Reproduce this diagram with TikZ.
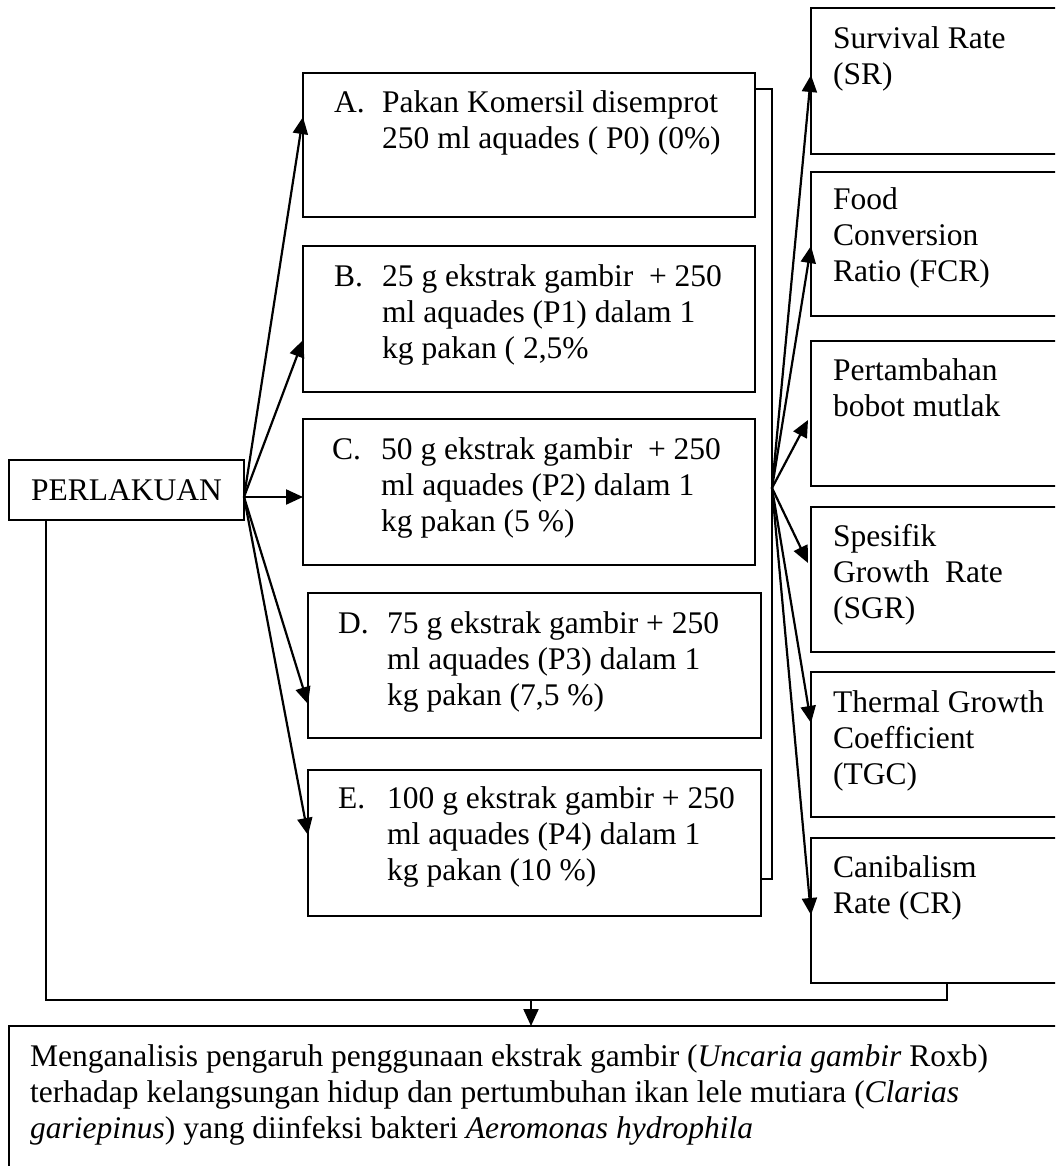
\documentclass[tikz,border=0pt]{standalone}
\usepackage{fontspec}
\setmainfont{Liberation Serif}
\usetikzlibrary{arrows.meta}
\newcommand\mylines[1]{\vtop{\baselineskip=36pt\lineskiplimit=-100pt\halign{##\hfil\cr#1\crcr}}}
\newcommand\itm[2]{\makebox[#1][l]{#2}}
\begin{document}
\begin{tikzpicture}[x=1pt,y=-1pt,
  box/.style={draw, line width=2.2pt, rectangle, inner sep=0pt, outer sep=0pt, anchor=north west},
  txt/.style={inner sep=0pt, anchor=base west, font=\fontsize{31.5pt}{36pt}\selectfont},
  ln/.style={line width=2.2pt},
  arr/.style={line width=2.2pt, -{Triangle[length=17pt,width=15pt]}}]
\useasboundingbox (0,0) rectangle (1055,1166);
\clip (0,0) rectangle (1055,1166);
% boxes
\node[box, minimum width=235pt, minimum height=60pt, font=\fontsize{31.5pt}{36pt}\selectfont] (P) at (9,460) {PERLAKUAN};
\node[box, minimum width=452pt, minimum height=144pt] (A) at (303,73) {};
\node[box, minimum width=452pt, minimum height=146pt] (B) at (303,246) {};
\node[box, minimum width=452pt, minimum height=146pt] (C) at (303,419) {};
\node[box, minimum width=453pt, minimum height=145pt] (D) at (308,593) {};
\node[box, minimum width=453pt, minimum height=146pt] (E) at (308,770) {};
\node[box, minimum width=272pt, minimum height=146pt] (SR) at (811,8) {};
\node[box, minimum width=272pt, minimum height=144pt] (FCR) at (811,172) {};
\node[box, minimum width=272pt, minimum height=145pt] (PBM) at (811,341) {};
\node[box, minimum width=272pt, minimum height=145pt] (SGR) at (811,507) {};
\node[box, minimum width=272pt, minimum height=145pt] (TGC) at (811,672) {};
\node[box, minimum width=272pt, minimum height=145pt] (CR) at (811,838) {};
\node[box, minimum width=1100pt, minimum height=200pt] (M) at (9,1026) {};
% texts
\node[txt] (tA) at (334,113) {\mylines{\itm{48pt}{A.}Pakan Komersil disemprot\cr\hspace*{48pt}250 ml aquades ( P0) (0\%)}};
\node[txt] (tB) at (334,286) {\mylines{\itm{48pt}{B.}25 g ekstrak gambir~ + 250\cr\hspace*{48pt}ml aquades (P1) dalam 1\cr\hspace*{48pt}kg pakan ( 2,5\%}};
\node[txt] (tC) at (332,459) {\mylines{\itm{49pt}{C.}50 g ekstrak gambir~ + 250\cr\hspace*{49pt}ml aquades (P2) dalam 1\cr\hspace*{49pt}kg pakan (5 \%)}};
\node[txt] (tD) at (338,633) {\mylines{\itm{49pt}{D.}75 g ekstrak gambir + 250\cr\hspace*{49pt}ml aquades (P3) dalam 1\cr\hspace*{49pt}kg pakan (7,5 \%)}};
\node[txt] (tE) at (338,808) {\mylines{\itm{49pt}{E.}100 g ekstrak gambir + 250\cr\hspace*{49pt}ml aquades (P4) dalam 1\cr\hspace*{49pt}kg pakan (10 \%)}};
\node[txt] (tSR) at (833,49) {\mylines{Survival Rate\cr(SR)}};
\node[txt] (tFCR) at (833,210) {\mylines{Food\cr Conversion\cr Ratio (FCR)}};
\node[txt] (tPBM) at (833,380) {\mylines{Pertambahan\cr bobot mutlak}};
\node[txt] (tSGR) at (833,546) {\mylines{Spesifik\cr Growth~ Rate\cr(SGR)}};
\node[txt] (tTGC) at (833,712) {\mylines{Thermal Growth\cr Coefficient\cr(TGC)}};
\node[txt] (tCR) at (833,877) {\mylines{Canibalism\cr Rate (CR)}};
\node[txt] (tM) at (30,1066) {\mylines{Menganalisis pengaruh penggunaan ekstrak gambir (\textit{Uncaria gambir} Roxb)\cr terhadap kelangsungan hidup dan pertumbuhan ikan lele mutiara (\textit{Clarias}\cr\textit{gariepinus}) yang diinfeksi bakteri \textit{Aeromonas hydrophila}}};
% left fan
\coordinate (p0) at ([yshift=-7pt]P.east);
\draw[arr] (p0) -- ([yshift=28pt]A.west);
\draw[arr] (p0) -- ([yshift=-21pt]B.west);
\draw[arr] (p0) -- ([yshift=-5pt]C.west);
\draw[arr] (p0) -- ([yshift=-38.5pt]D.west);
\draw[arr] (p0) -- ([yshift=8pt]E.west);
% bracket
\draw[ln] ([yshift=56pt]A.east) -- ++(17,0) |- ([yshift=-36pt]E.east);
% right fan
\coordinate (f) at (772,488);
\draw[arr] (f) -- ([yshift=6pt]SR.west);
\draw[arr] (f) -- ([yshift=-2pt]FCR.west);
\draw[arr] (f) -- ([yshift=-6.5pt,xshift=-3pt]PBM.west);
\draw[arr] (f) -- ([yshift=16.5pt,xshift=-3pt]SGR.west);
\draw[arr] (f) -- ([yshift=21.5pt]TGC.west);
\draw[arr] (f) -- ([yshift=-4.5pt]CR.west);
% bottom connector
\draw[ln] ([xshift=-80.5pt]P.south) -- ++(0,480) -| (CR.south);
\coordinate (j) at (531,1000);
\draw[arr] (j) -- (j |- M.north);
\end{tikzpicture}
\end{document}
